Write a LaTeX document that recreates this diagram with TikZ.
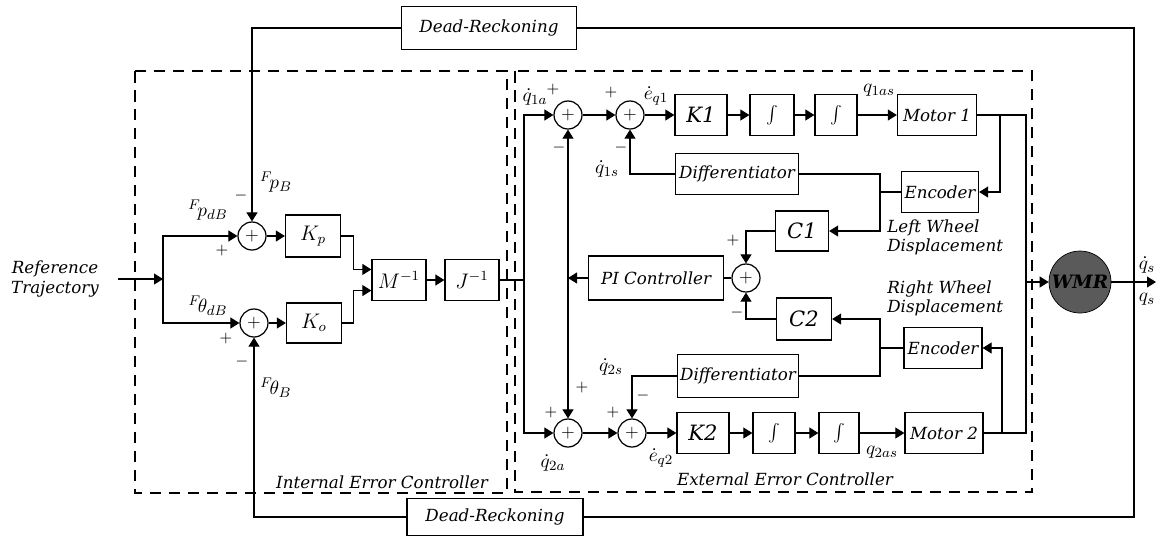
\documentclass[tikz,border=0pt]{standalone}
\usepackage{fontspec}
\setmainfont{DejaVu Serif}
\usetikzlibrary{arrows.meta,positioning,calc}
\definecolor{WmrGray}{HTML}{5A5A5A}
\tikzset{
  blk/.style={rectangle,draw,line width=0.75pt,inner sep=1pt,
              minimum width=#1,minimum height=0.82cm,
              font=\fontsize{9.5}{11}\selectfont\itshape},
  blk/.default=1.08cm,
  sumc/.style={circle,draw,line width=0.7pt,minimum size=0.56cm,
               inner sep=0pt,font=\normalsize},
  arr/.style={-{Triangle[length=1.8mm,width=2.2mm]},line width=0.6pt},
  wire/.style={line width=0.6pt},
  grp/.style={dash pattern=on 2.3mm off 1.5mm,line width=0.6pt},
  sgn/.style={font=\small,inner sep=0pt},
  lbl/.style={font=\fontsize{11}{13}\selectfont,inner sep=0pt},
  ttl/.style={font=\fontsize{9.5}{11}\selectfont\itshape,inner sep=0pt},
}

\begin{document}
\begin{tikzpicture}[x=0.02cm,y=-0.02cm]
  \useasboundingbox (0,0) rectangle (1157,539);

  \node[ttl,align=center] (ref) at (55,279) {Reference\\Trajectory};
  \coordinate (rin) at (118,279);
  \coordinate (inj) at (163,279);

  \node[sumc] (sp)  at (252,236) {$+$};
  \node[sumc] (sth) at (254,323) {$+$};
  \node[blk=1.1cm,minimum height=0.84cm] (Kp) at (313,236) {\large$K_p$};
  \node[blk=1.1cm,minimum height=0.8cm]  (Ko) at (314,323) {\large$K_o$};
  \node[blk] (Minv) at (399,280) {\large$M^{-1}$};
  \node[blk] (Jinv) at (472,280) {\large$J^{-1}$};
  \coordinate (jj) at (524,280);

  \node[blk=3.5cm,minimum height=0.86cm]  (drt) at (489,28)  {Dead-Reckoning};
  \node[blk=3.52cm,minimum height=0.74cm] (drb) at (495,517) {Dead-Reckoning};
  \coordinate (fbb) at (1134,517);

  \node[sumc] (s1a) at (568,115) {$+$};
  \node[sumc] (s1e) at (630,115) {$+$};
  \node[blk=1.04cm] (K1)   at (701,115) {\large K1};
  \node[blk=0.88cm] (I1)   at (772,115) {\large$\int$};
  \node[blk=0.84cm] (I2)   at (836,115) {\large$\int$};
  \node[blk=1.58cm] (Mot1) at (937,115) {Motor 1};
  \node[blk=2.46cm] (Dif1) at (737,174) {Differentiator};
  \node[blk=1.54cm] (Enc1) at (940,192) {Encoder};
  \node[blk=1.06cm,minimum height=0.8cm] (C1) at (802,231) {\large C1};

  \node[sumc] (s3) at (746,278) {$+$};
  \node[blk=2.7cm,minimum height=0.88cm] (PI) at (656,278) {PI Controller};
  \coordinate (pij) at (568,278);

  \node[blk=1.1cm,minimum height=0.84cm] (C2) at (804,319) {\large C2};
  \node[blk=1.56cm] (Enc2) at (943,348) {Encoder};
  \node[blk=2.42cm,minimum height=0.86cm] (Dif2) at (738,376) {Differentiator};
  \node[sumc] (s2a) at (568,433) {$+$};
  \node[sumc] (s2e) at (632,433) {$+$};
  \node[blk=1.04cm] (K2)   at (703,433) {\large K2};
  \node[blk=0.84cm] (I3)   at (774,433) {\large$\int$};
  \node[blk=0.8cm]  (I4)   at (839,433) {\large$\int$};
  \node[blk=1.56cm] (Mot2) at (944,433) {Motor 2};

  \coordinate (m1j) at (1000,115);
  \coordinate (m2j) at (1002,433);
  \coordinate (e1j) at (880,192);
  \coordinate (e2j) at (880,348);
  \coordinate (wmrin) at (1026,282);
  \node[circle,draw,fill=WmrGray,minimum size=1.24cm,inner sep=0pt,
        font=\fontsize{10.5}{12}\selectfont\bfseries\itshape] (wmr) at (1080,282) {WMR};
  \coordinate (qout) at (1156,282);

  \draw[grp] (135,71) rectangle (507,493);
  \draw[grp] (515,71) rectangle (1032,492);
  \node[ttl] (intl) at (382,482) {Internal Error Controller};
  \node[ttl] (extl) at (785,479) {External Error Controller};
  \node[ttl,align=left,anchor=north west] (lwd) at (887,219) {Left Wheel\\Displacement};
  \node[ttl,align=left,anchor=north west] (rwd) at (887,280) {Right Wheel\\Displacement};

  \draw[arr] (rin) -- (inj);
  \draw[arr] (inj) |- (sp.west);
  \draw[arr] (inj) |- (sth.west);
  \draw[arr] (sp) -- (Kp);
  \draw[arr] (sth) -- (Ko);
  \draw[arr] (Kp.east) -- ++(12,0) |- ([yshift=6pt]Minv.west);
  \draw[arr] (Ko.east) -- ++(11,0) |- ([yshift=-6pt]Minv.west);
  \draw[arr] (Minv) -- (Jinv);
  \draw[wire] (Jinv) -- (jj);
  \draw[arr] (jj) |- (s1a.west);
  \draw[arr] (jj) |- (s2a.west);

  \draw[arr] (drt.west) -| (sp.north);
  \draw[arr] (drb.west) -| (sth.south);
  \draw[wire] (drt.east) -| (fbb) -- (drb.east);

  \draw[arr] (s1a) -- (s1e);
  \draw[arr] (s1e) -- (K1);
  \draw[arr] (K1) -- (I1);
  \draw[arr] (I1) -- (I2);
  \draw[arr] (I2) -- (Mot1);
  \draw[arr] (s2a) -- (s2e);
  \draw[arr] (s2e) -- (K2);
  \draw[arr] (K2) -- (I3);
  \draw[arr] (I3) -- (I4);
  \draw[arr] (I4) -- (Mot2);

  \draw[wire] (Mot1.east) -| (wmrin);
  \draw[wire] (Mot2.east) -| (wmrin);
  \draw[arr] (wmrin) -- (wmr.west);
  \draw[arr] (wmr.east) -- (qout);
  \draw[arr] (m1j) |- (Enc1.east);
  \draw[arr] (m2j) |- (Enc2.east);

  \draw[wire] (Enc1.west) -- (e1j);
  \draw[arr] (Dif1.east) -| (e1j) |- (C1.east);
  \draw[wire] (Enc2.west) -- (e2j);
  \draw[arr] (Dif2.east) -| (e2j) |- (C2.east);
  \draw[arr] (Dif1.west) -| (s1e.south);
  \draw[arr] (Dif2.west) -| (s2e.north);
  \draw[arr] (C1.west) -| (s3.north);
  \draw[arr] (C2.west) -| (s3.south);
  \draw[wire] (s3) -- (PI);
  \draw[arr] (PI.west) -- (pij);
  \draw[arr] (pij) -- (s1a.south);
  \draw[arr] (pij) -- (s2a.north);

  \node[lbl] (lpdb)  at (208,210) {${}^{F}\!p_{dB}$};
  \node[lbl] (lpb)   at (276,182) {${}^{F}\!p_{B}$};
  \node[lbl] (ltdb)  at (208,306) {${}^{F}\!\theta_{dB}$};
  \node[lbl] (ltb)   at (276,388) {${}^{F}\!\theta_{B}$};
  \node[sgn] at (222,251) {$+$};
  \node[sgn] at (241,196) {$-$};
  \node[sgn] at (226,339) {$+$};
  \node[sgn] at (242,362) {$-$};

  \node[lbl] (lq1a)  at (535,97)  {$\dot q_{1a}$};
  \node[sgn] at (553,90)  {$+$};
  \node[sgn] at (559,148) {$-$};
  \node[sgn] at (611,93)  {$+$};
  \node[lbl] (le1)   at (656,96)  {$\dot e_{q1}$};
  \node[sgn] at (621,148) {$-$};
  \node[lbl] (lq1s)  at (607,169) {$\dot q_{1s}$};
  \node[lbl] (lq1as) at (879,90)  {$q_{1as}$};
  \node[sgn] at (733,241) {$+$};
  \node[sgn] at (737,313) {$-$};
  \node[lbl] (lq2s)  at (611,367) {$\dot q_{2s}$};
  \node[sgn] at (643,396) {$-$};
  \node[sgn] at (613,413) {$+$};
  \node[sgn] at (551,413) {$+$};
  \node[sgn] at (582,388) {$+$};
  \node[lbl] (lq2a)  at (553,463) {$\dot q_{2a}$};
  \node[lbl] (le2)   at (661,458) {$\dot e_{q2}$};
  \node[lbl] (lq2as) at (882,452) {$q_{2as}$};
  \node[lbl] (lqsd)  at (1147,265) {$\dot q_s$};
  \node[lbl] (lqs)   at (1147,299) {$q_s$};
\end{tikzpicture}
\end{document}
